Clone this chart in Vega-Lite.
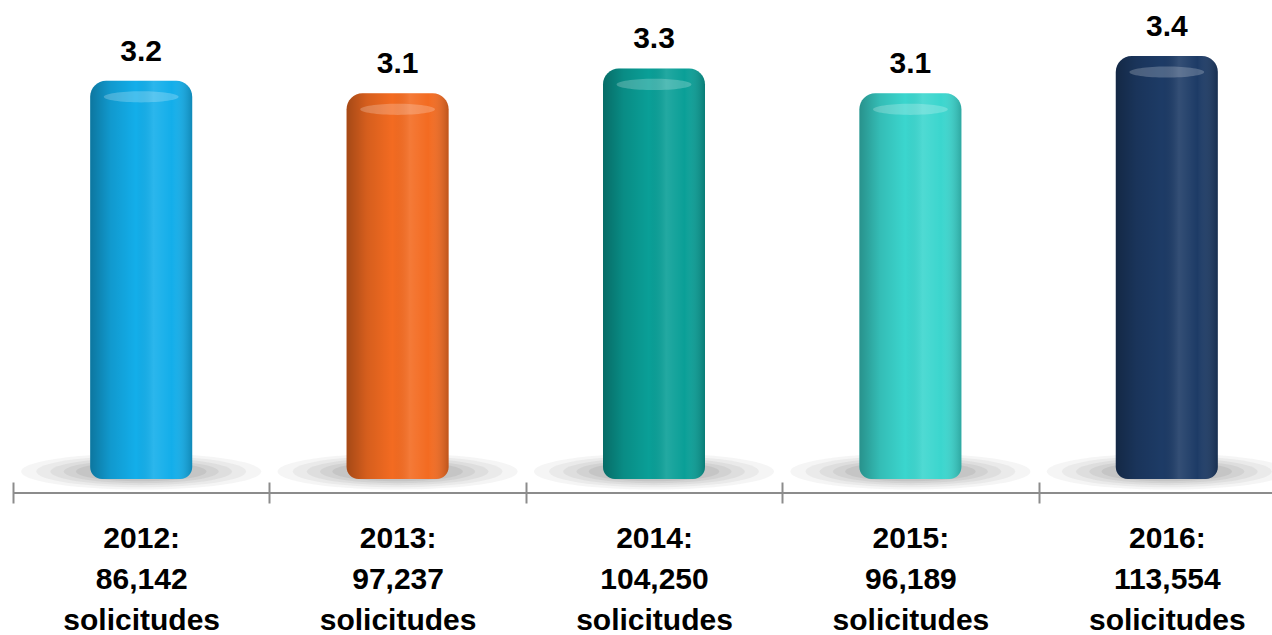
{
  "$schema": "https://vega.github.io/schema/vega-lite/v6.json",
  "width": 1259,
  "height": 493,
  "autosize": {"type": "none"},
  "padding": {"left": 13, "top": 0, "right": 0, "bottom": 142},
  "background": "white",
  "config": {"view": {"stroke": null}, "font": "Liberation Sans"},
  "data": {
    "values": [
      {"year": "2012", "requests": 86142, "rate": 3.2, "label": "2012: 86,142 solicitudes"},
      {"year": "2013", "requests": 97237, "rate": 3.1, "label": "2013: 97,237 solicitudes"},
      {"year": "2014", "requests": 104250, "rate": 3.3, "label": "2014: 104,250 solicitudes"},
      {"year": "2015", "requests": 96189, "rate": 3.1, "label": "2015: 96,189 solicitudes"},
      {"year": "2016", "requests": 113554, "rate": 3.4, "label": "2016: 113,554 solicitudes"}
    ]
  },
  "layer": [
    {
      "mark": {"type": "rule", "color": "#8c8c8c", "strokeWidth": 2},
      "encoding": {"y": {"datum": -0.1125, "type": "quantitative", "scale": {"domain": [-0.1125, 3.85], "nice": false, "zero": false}, "axis": null}}
    },
    {
      "mark": {"type": "point", "filled": true, "color": "#6e6e6e", "opacity": 0.07, "strokeWidth": 0,
        "shape": "M-1,0A1,0.15,0,1,0,1,0A1,0.15,0,1,0,-1,0Z", "size": 57600},
      "encoding": {
        "x": {
          "field": "label",
          "type": "nominal",
          "sort": null,
          "title": null,
          "scale": {"range": [0, 1282], "paddingInner": 0, "paddingOuter": 0},
          "axis": {
            "orient": "bottom",
            "offset": -11,
            "domain": false,
            "tickBand": "extent",
            "tickSize": 21,
            "tickWidth": 2,
            "tickColor": "#8c8c8c",
            "labelAngle": 0,
            "labelPadding": 20,
            "labelFont": "Liberation Sans",
            "labelFontSize": 30,
            "labelFontWeight": "bold",
            "labelColor": "#000000",
            "labelLineHeight": 41,
            "labelLimit": 0,
            "labelOverlap": false,
            "labelExpr": "split(datum.label, ' ')"
          }
        },
        "y": {"datum": 0.06, "type": "quantitative"}
      }
    },
    {
      "mark": {"type": "point", "filled": true, "color": "#6e6e6e", "opacity": 0.08, "strokeWidth": 0,
        "shape": "M-1,0A1,0.15,0,1,0,1,0A1,0.15,0,1,0,-1,0Z", "size": 44000},
      "encoding": {
        "x": {"field": "label", "type": "nominal", "sort": null},
        "y": {"datum": 0.06, "type": "quantitative"}
      }
    },
    {
      "mark": {"type": "point", "filled": true, "color": "#6e6e6e", "opacity": 0.09, "strokeWidth": 0,
        "shape": "M-1,0A1,0.15,0,1,0,1,0A1,0.15,0,1,0,-1,0Z", "size": 33000},
      "encoding": {
        "x": {"field": "label", "type": "nominal", "sort": null},
        "y": {"datum": 0.06, "type": "quantitative"}
      }
    },
    {
      "mark": {"type": "point", "filled": true, "color": "#6e6e6e", "opacity": 0.1, "strokeWidth": 0,
        "shape": "M-1,0A1,0.15,0,1,0,1,0A1,0.15,0,1,0,-1,0Z", "size": 24000},
      "encoding": {
        "x": {"field": "label", "type": "nominal", "sort": null},
        "y": {"datum": 0.06, "type": "quantitative"}
      }
    },
    {
      "mark": {"type": "point", "filled": true, "color": "#6e6e6e", "opacity": 0.12, "strokeWidth": 0,
        "shape": "M-1,0A1,0.15,0,1,0,1,0A1,0.15,0,1,0,-1,0Z", "size": 17000},
      "encoding": {
        "x": {"field": "label", "type": "nominal", "sort": null},
        "y": {"datum": 0.06, "type": "quantitative"}
      }
    },
    {
      "mark": {
        "type": "bar",
        "size": 102,
        "cornerRadiusTopLeft": 16,
        "cornerRadiusTopRight": 16,
        "cornerRadiusBottomLeft": 12,
        "cornerRadiusBottomRight": 12
      },
      "encoding": {
        "x": {"field": "label", "type": "nominal", "sort": null},
        "y": {"field": "rate", "type": "quantitative"},
        "y2": {"datum": 0},
        "color": {
          "field": "year",
          "type": "nominal",
          "legend": null,
          "scale": {
            "domain": ["2012", "2013", "2014", "2015", "2016"],
            "range": ["#13aeea", "#f36b21", "#0a9f97", "#3bd6ce", "#1d3b66"]
          }
        }
      }
    },
    {
      "mark": {
        "type": "bar",
        "size": 102,
        "cornerRadiusTopLeft": 16,
        "cornerRadiusTopRight": 16,
        "cornerRadiusBottomLeft": 12,
        "cornerRadiusBottomRight": 12,
        "color": {
          "gradient": "linear",
          "x1": 0, "y1": 0, "x2": 1, "y2": 0,
          "stops": [
            {"offset": 0, "color": "rgba(0,0,0,0.32)"},
            {"offset": 0.2, "color": "rgba(0,0,0,0.12)"},
            {"offset": 0.45, "color": "rgba(0,0,0,0)"},
            {"offset": 0.62, "color": "rgba(255,255,255,0.1)"},
            {"offset": 0.8, "color": "rgba(255,255,255,0)"},
            {"offset": 1, "color": "rgba(0,0,0,0.22)"}
          ]
        }
      },
      "encoding": {
        "x": {"field": "label", "type": "nominal", "sort": null},
        "y": {"field": "rate", "type": "quantitative"},
        "y2": {"datum": 0}
      }
    },
    {
      "mark": {"type": "point", "filled": true, "color": "#ffffff", "opacity": 0.22, "strokeWidth": 0,
        "shape": "M-1,0A1,0.15,0,1,0,1,0A1,0.15,0,1,0,-1,0Z", "size": 5600},
      "encoding": {
        "x": {"field": "label", "type": "nominal", "sort": null},
        "y": {"field": "rate", "type": "quantitative"},
        "yOffset": {"value": 16}
      }
    },
    {
      "mark": {
        "type": "text",
        "fontSize": 30,
        "fontWeight": "bold",
        "font": "Liberation Sans",
        "color": "#000000",
        "baseline": "alphabetic",
        "dy": -20
      },
      "encoding": {
        "x": {"field": "label", "type": "nominal", "sort": null},
        "y": {"field": "rate", "type": "quantitative"},
        "text": {"field": "rate", "type": "quantitative", "format": ".1f"}
      }
    }
  ]
}
